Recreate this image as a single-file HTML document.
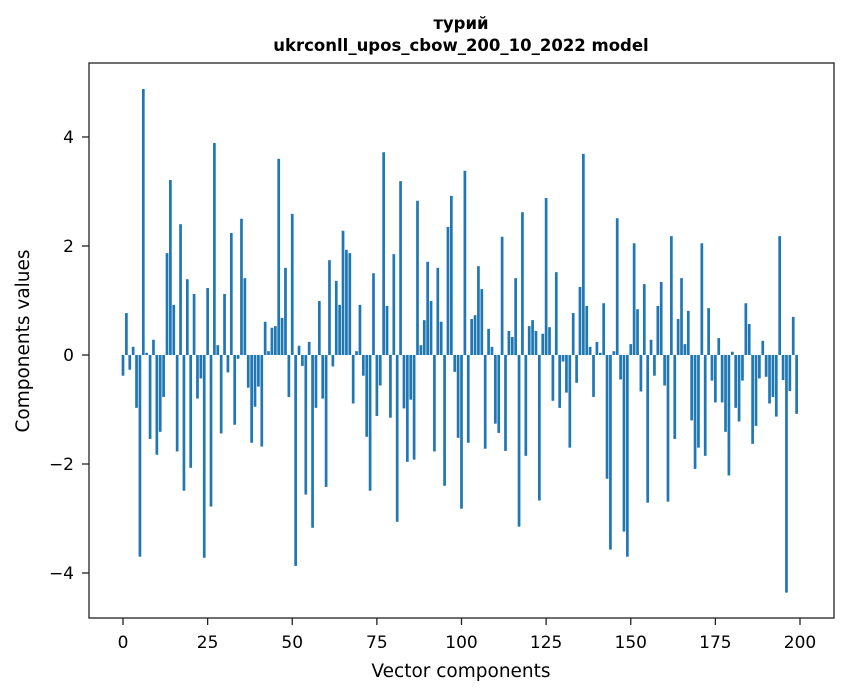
<!DOCTYPE html>
<html><head><meta charset="utf-8"><style>
body{margin:0;background:#fff;}
svg{display:block;font-family:"DejaVu Sans","Liberation Sans",sans-serif;}
</style></head><body>
<svg id="chart" width="847" height="696" viewBox="0 0 847 696" xmlns="http://www.w3.org/2000/svg">
<rect width="847" height="696" fill="#fff"/>
<text x="461" y="29" text-anchor="middle" font-size="16.5" font-weight="bold">турий</text>
<text x="461" y="51" text-anchor="middle" font-size="16.5" font-weight="bold">ukrconll_upos_cbow_200_10_2022 model</text>
<g id="bars"></g>
<rect x="89" y="63" width="745" height="555" fill="none" stroke="#222" stroke-width="1.3"/>
<g id="xticks"></g>
<g id="yticks"></g>
<text x="461" y="677" text-anchor="middle" font-size="18.5">Vector components</text>
<text transform="translate(29,341) rotate(-90)" text-anchor="middle" font-size="18.5">Components values</text>
</svg>
<script>
const values = [
-0.38,0.77,-0.27,0.15,-0.97,-3.7,4.88,0.04,-1.54,0.28,
-1.83,-1.41,-0.77,1.87,3.21,0.92,-1.77,2.4,-2.49,1.39,
-2.07,1.12,-0.8,-0.43,-3.72,1.23,-2.78,3.89,0.18,-1.44,
1.12,-0.32,2.24,-1.28,-0.07,2.5,1.41,-0.6,-1.61,-0.95,
-0.58,-1.68,0.61,0.07,0.5,0.53,3.6,0.68,1.6,-0.77,
2.59,-3.87,0.17,-0.2,-2.56,0.24,-3.17,-0.97,0.99,-0.8,
-2.42,1.74,-0.21,1.36,0.92,2.28,1.93,1.87,-0.89,0.07,
0.92,-0.38,-1.5,-2.49,1.5,-1.12,-0.56,3.72,0.9,-1.15,
1.85,-3.06,3.19,-0.98,-1.96,-0.82,-1.92,2.83,0.18,0.64,
1.71,0.99,-1.77,1.6,0.61,-2.4,2.35,2.92,-0.31,-1.52,
-2.82,3.38,-1.61,0.66,0.73,1.63,1.21,-1.72,0.48,0.15,
-1.26,-1.43,2.17,-1.76,0.44,0.33,1.41,-3.15,2.62,-1.85,
0.53,0.64,0.44,-2.67,0.39,2.88,0.51,-0.84,1.52,-0.97,
-0.12,-0.69,-1.7,0.77,-0.51,1.25,3.69,0.9,0.15,-0.77,
0.24,0.04,0.95,-2.27,-3.57,0.07,2.51,-0.45,-3.24,-3.7,
0.2,2.05,0.84,-0.67,1.3,-2.71,0.28,-0.38,0.9,1.34,
-0.56,-2.69,2.18,-1.54,0.66,1.41,0.2,0.81,-1.2,-2.09,
-1.7,2.05,-1.85,0.86,-0.47,-0.87,0.31,-0.87,-1.41,-2.21,
0.06,-0.97,-1.22,-0.47,0.95,0.57,-1.63,-1.3,-0.43,0.26,
-0.4,-0.89,-0.77,-1.13,2.18,-0.46,-4.36,-0.66,0.7,-1.08
];
const xTicks = [0,25,50,75,100,125,150,175,200];
const yTicks = [-4,-2,0,2,4];
const NS = "http://www.w3.org/2000/svg";
function xs(v){return 123 + 3.385*v;}
function ys(v){return 355 - 54.5*v;}
const bars = document.getElementById('bars');
values.forEach((v,i)=>{
  const r = document.createElementNS(NS,'rect');
  
  
  const y0 = Math.min(ys(v), ys(0)), h = Math.abs(ys(v)-ys(0));
  r.setAttribute('x', xs(i-0.4));
  r.setAttribute('y', y0);
  r.setAttribute('width', 3.385*0.8);
  r.setAttribute('height', h);
  r.setAttribute('fill', '#1f77b4');
  bars.appendChild(r);
});
const xg = document.getElementById('xticks');
xTicks.forEach(t=>{
  const l = document.createElementNS(NS,'line');
  
  
  l.setAttribute('x1', xs(t)); l.setAttribute('x2', xs(t));
  l.setAttribute('y1', 618); l.setAttribute('y2', 625);
  l.setAttribute('stroke', '#222'); l.setAttribute('stroke-width', '1.3');
  xg.appendChild(l);
  const tx = document.createElementNS(NS,'text');
  
  
  tx.setAttribute('x', xs(t)); tx.setAttribute('y', 648);
  tx.setAttribute('text-anchor', 'middle'); tx.setAttribute('font-size', '17');
  tx.textContent = t;
  xg.appendChild(tx);
});
const yg = document.getElementById('yticks');
yTicks.forEach(t=>{
  const l = document.createElementNS(NS,'line');
  
  
  l.setAttribute('x1', 82); l.setAttribute('x2', 89);
  l.setAttribute('y1', ys(t)); l.setAttribute('y2', ys(t));
  l.setAttribute('stroke', '#222'); l.setAttribute('stroke-width', '1.3');
  yg.appendChild(l);
  const tx = document.createElementNS(NS,'text');
  
  
  tx.setAttribute('x', 74); tx.setAttribute('y', ys(t)+6);
  tx.setAttribute('text-anchor', 'end'); tx.setAttribute('font-size', '17');
  tx.textContent = t < 0 ? '\u2212' + Math.abs(t) : t;
  yg.appendChild(tx);
});
</script>
</body></html>
